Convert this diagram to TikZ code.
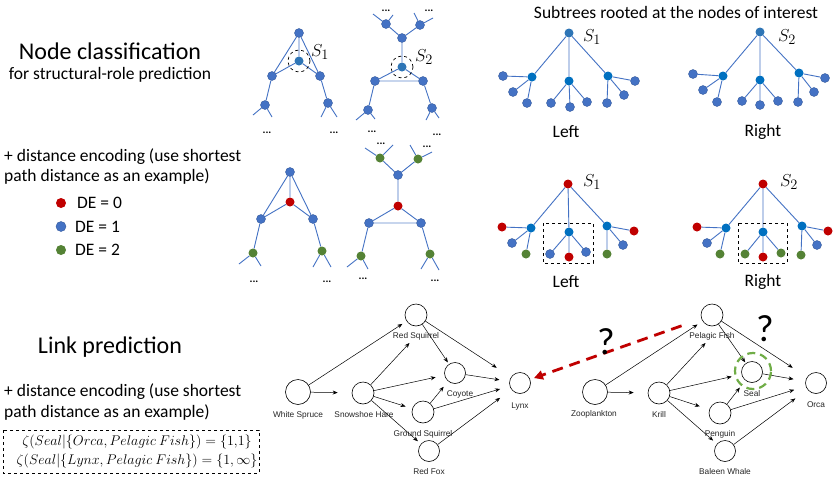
\documentclass[tikz,border=0pt]{standalone}
\usepackage{fontspec}
\setmainfont{Carlito}
\newfontfamily\arialf{Liberation Sans}
\usetikzlibrary{arrows.meta}
\definecolor{nblue}{HTML}{4472C4}
\definecolor{cblue}{HTML}{0070C0}
\definecolor{rblue}{HTML}{2E75B6}
\definecolor{nred}{HTML}{C00000}
\definecolor{ngreen}{HTML}{548235}
\definecolor{dgreen}{HTML}{70AD47}
\tikzset{
 dot/.style={circle, inner sep=0pt, minimum size=9pt},
 bn/.style={dot, fill=nblue, draw=nblue!80!black, line width=0.4pt},
 cn/.style={dot, fill=cblue},
 rtn/.style={dot, fill=rblue},
 rn/.style={dot, fill=nred},
 gn/.style={dot, fill=ngreen},
 ed/.style={draw=nblue, line width=0.9pt},
 dots/.style={font=\fontsize{11}{11}\selectfont\bfseries, inner sep=0pt},
 txt/.style={font=\fontsize{17.5}{21}\selectfont, inner sep=0pt},
 big/.style={font=\fontsize{24}{28}\selectfont, inner sep=0pt},
 slab/.style={font=\fontsize{19}{19}\selectfont, inner sep=0pt},
 dcirc/.style={circle, draw=black, dashed, line width=0.7pt, minimum size=22pt, inner sep=0pt},
 dbox/.style={draw=black, dashed, line width=0.8pt},
 fw/.style={circle, draw=black, line width=0.6pt, minimum size=22pt, inner sep=0pt, fill=white},
 fwl/.style={font=\arialf\fontsize{8.3}{9}\selectfont, inner sep=0pt, text=black!85},
 fa/.style={-{Stealth[length=5pt,width=4pt]}, line width=0.5pt},
 qm/.style={font=\fontsize{38}{38}\selectfont, inner sep=0pt},
 frm/.style={font=\fontsize{12}{14}\selectfont, inner sep=0pt},
}
\begin{document}
\begin{tikzpicture}[x=1pt,y=-1pt]
\fill[white] (0,0) rectangle (833,477);
\useasboundingbox (0,0) rectangle (833,477);

% ---------- left texts ----------
\node[big] (t1) at (110,51) {Node classification};
\node[txt] (t2) at (110,75) {for structural-role prediction};
\node[txt,anchor=west] (t3) at (4,157) {+ distance encoding (use shortest};
\node[txt,anchor=west] (t4) at (4,177) {path distance as an example)};
\node[rn,minimum size=10pt] (l0) at (61,203) {};
\node[bn,minimum size=10pt] (l1) at (61,226.5) {};
\node[gn,minimum size=10pt] (l2) at (61,250) {};
\node[txt,anchor=west] (l0t) at (77,203) {DE = 0};
\node[txt,anchor=west] (l1t) at (75,226.5) {DE = 1};
\node[txt,anchor=west] (l2t) at (75,250) {DE = 2};

\node[big] (t5) at (110,347) {Link prediction};
\node[txt,anchor=west] (t6) at (4,392) {+ distance encoding (use shortest};
\node[txt,anchor=west] (t7) at (4,413) {path distance as an example)};
\draw[dbox] (3,430) rectangle (259,473);
\node[frm] (f1) at (137,442) {\scalebox{1.17}{$\zeta(Seal|\{Orca, Pelagic\ Fish\}) = \{1{,}1\}$}};
\node[frm] (f2) at (137,461) {\scalebox{1.17}{$\zeta(Seal|\{Lynx, Pelagic\ Fish\}) = \{1, \infty\}$}};

% ---------- graph A (row 1) ----------
\node[bn] (a0) at (299,33) {};
\node[rtn] (a1) at (299,61) {};
\node[bn] (a2) at (272,76) {};
\node[bn] (a3) at (320,76) {};
\node[bn] (a4) at (265,105) {};
\node[bn] (a5) at (328,103) {};
\coordinate (a4s1) at (253,115); \coordinate (a4s2) at (272,117);
\coordinate (a5s1) at (321,117); \coordinate (a5s2) at (337,117);
\draw[ed] (a0)--(a1) (a0)--(a2) (a0)--(a3) (a1)--(a2) (a1)--(a3) (a2)--(a4) (a3)--(a5)
  (a4)--(a4s1) (a4)--(a4s2) (a5)--(a5s1) (a5)--(a5s2);
\node[dcirc] (a1c) at (299,61) {};
\node[slab] (sa) at (320,52) {$S_1$};
\node[dots] (ad1) at (267,133) {...};
\node[dots] (ad2) at (334,133) {...};

% ---------- graph B (row 1) ----------
\node[bn] (b0) at (386,24) {};
\node[bn] (b1) at (420,25) {};
\node[bn] (b2) at (402,38) {};
\node[rtn] (b3) at (402,67) {};
\node[bn] (b4) at (375,81) {};
\node[bn] (b5) at (423,81) {};
\node[bn] (b6) at (368,110) {};
\node[bn] (b7) at (432,108) {};
\coordinate (b0s1) at (373,14); \coordinate (b0s2) at (393,15);
\coordinate (b1s1) at (414,13); \coordinate (b1s2) at (433,18);
\coordinate (b6s1) at (356,120); \coordinate (b6s2) at (375,119);
\coordinate (b7s1) at (426,120); \coordinate (b7s2) at (439,118);
\draw[ed] (b0)--(b2) (b1)--(b2) (b2)--(b3) (b3)--(b4) (b3)--(b5) (b4)--(b6) (b5)--(b7)
  (b0)--(b0s1) (b0)--(b0s2) (b1)--(b1s1) (b1)--(b1s2)
  (b6)--(b6s1) (b6)--(b6s2) (b7)--(b7s1) (b7)--(b7s2);
\draw[draw=nblue!75, double=nblue!30, double distance=1.2pt, line width=0.6pt] (b4)--(b5);
\node[dcirc] (b3c) at (402,67) {};
\node[slab] (sb) at (424,57) {$S_2$};
\node[dots] (bd1) at (386,11) {...};
\node[dots] (bd2) at (429,11) {...};
\node[dots] (bd3) at (372,132) {...};
\node[dots] (bd4) at (437,135) {...};

% ---------- graph A' (row 2) ----------
\node[bn] (c0) at (290,172) {};
\node[rn] (c1) at (290,202) {};
\node[bn] (c2) at (261,219) {};
\node[bn] (c3) at (313,219) {};
\node[gn] (c4) at (253,253) {};
\node[gn] (c5) at (322,251) {};
\coordinate (c4s1) at (239,264); \coordinate (c4s2) at (261,266);
\coordinate (c5s1) at (313,267); \coordinate (c5s2) at (331,267);
\draw[ed] (c0)--(c1) (c0)--(c2) (c0)--(c3) (c1)--(c2) (c1)--(c3) (c2)--(c4) (c3)--(c5)
  (c4)--(c4s1) (c4)--(c4s2) (c5)--(c5s1) (c5)--(c5s2);
\node[dots] (cd1) at (254,282) {...};
\node[dots] (cd2) at (327,282) {...};

% ---------- graph B' (row 2) ----------
\node[gn] (d0) at (380,158) {};
\node[gn] (d1) at (418,159) {};
\node[bn] (d2) at (398,175) {};
\node[rn] (d3) at (398,206) {};
\node[bn] (d4) at (369,223) {};
\node[bn] (d5) at (421,223) {};
\node[gn] (d6) at (361,256) {};
\node[gn] (d7) at (430,254) {};
\coordinate (d0s1) at (365,148); \coordinate (d0s2) at (393,145);
\coordinate (d1s1) at (410,145); \coordinate (d1s2) at (432,152);
\coordinate (d6s1) at (347,267); \coordinate (d6s2) at (368,269);
\coordinate (d7s1) at (421,269); \coordinate (d7s2) at (439,270);
\draw[ed] (d0)--(d2) (d1)--(d2) (d2)--(d3) (d3)--(d4) (d3)--(d5) (d4)--(d6) (d5)--(d7)
  (d0)--(d0s1) (d0)--(d0s2) (d1)--(d1s1) (d1)--(d1s2)
  (d6)--(d6s1) (d6)--(d6s2) (d7)--(d7s1) (d7)--(d7s2);
\draw[draw=nblue!75, double=nblue!30, double distance=1.2pt, line width=0.6pt] (d4)--(d5);
\node[dots] (dd1) at (381,144) {...};
\node[dots] (dd2) at (427,147) {...};
\node[dots] (dd3) at (363,279) {...};
\node[dots] (dd4) at (435,281) {...};

% ---------- subtrees row 1 ----------
\node[txt] (st) at (676,12) {Subtrees rooted at the nodes of interest};
% left
\node[rtn] (p0) at (569,33) {};
\node[cn] (p1) at (532,77) {};
\node[cn] (p2) at (569,81) {};
\node[cn] (p3) at (608,76) {};
\node[bn] (p11) at (503,76) {}; \node[bn] (p12) at (513,92) {}; \node[bn] (p13) at (527,103) {};
\node[bn] (p21) at (551,103) {}; \node[bn] (p22) at (570,107) {}; \node[bn] (p23) at (587,102) {};
\node[bn] (p31) at (607,103) {}; \node[bn] (p32) at (624,95) {}; \node[bn] (p33) at (635,81) {};
\draw[ed] (p0)--(p1) (p0)--(p2) (p0)--(p3)
  (p1)--(p11) (p1)--(p12) (p1)--(p13) (p2)--(p21) (p2)--(p22) (p2)--(p23)
  (p3)--(p31) (p3)--(p32) (p3)--(p33);
\node[slab] (sp) at (592,37) {$S_1$};
\node[txt] (pl) at (566,132) {Left};
% right
\node[rtn] (q0) at (760,32) {};
\node[cn] (q1) at (723,76) {};
\node[cn] (q2) at (760,80) {};
\node[cn] (q3) at (799,73) {};
\node[bn] (q11) at (693,74) {}; \node[bn] (q12) at (703,90) {}; \node[bn] (q13) at (717,102) {};
\node[bn] (q21) at (742,101) {}; \node[bn] (q22) at (760,105) {}; \node[bn] (q23) at (778,101) {};
\node[bn] (q31) at (798,102) {}; \node[bn] (q32) at (814,92) {}; \node[bn] (q33) at (825,78) {};
\draw[ed] (q0)--(q1) (q0)--(q2) (q0)--(q3)
  (q1)--(q11) (q1)--(q12) (q1)--(q13) (q2)--(q21) (q2)--(q22) (q2)--(q23)
  (q3)--(q31) (q3)--(q32) (q3)--(q33);
\node[slab] (sq) at (787,37) {$S_2$};
\node[txt] (ql) at (763,132) {Right};

% ---------- subtrees row 2 ----------
\node[rn] (u0) at (568,184) {};
\node[cn] (u1) at (531,228) {};
\node[cn] (u2) at (569,232) {};
\node[cn] (u3) at (607,226) {};
\node[rn] (u11) at (502,227) {}; \node[bn] (u12) at (512,243) {}; \node[gn] (u13) at (526,254) {};
\node[bn] (u21) at (550,254) {}; \node[rn] (u22) at (569,257) {}; \node[bn] (u23) at (586,252) {};
\node[gn] (u31) at (607,254) {}; \node[bn] (u32) at (623,245) {}; \node[rn] (u33) at (634,231) {};
\draw[ed] (u0)--(u1) (u0)--(u2) (u0)--(u3)
  (u1)--(u11) (u1)--(u12) (u1)--(u13) (u2)--(u21) (u2)--(u22) (u2)--(u23)
  (u3)--(u31) (u3)--(u32) (u3)--(u33);
\draw[dbox] (543,223) rectangle (593,263);
\node[slab] (su) at (592,182) {$S_1$};
\node[txt] (ul) at (566,282) {Left};
% right
\node[rn] (v0) at (763,184) {};
\node[cn] (v1) at (726,228) {};
\node[cn] (v2) at (763,232) {};
\node[cn] (v3) at (802,226) {};
\node[rn] (v11) at (697,227) {}; \node[bn] (v12) at (707,243) {}; \node[gn] (v13) at (720,254) {};
\node[gn] (v21) at (745,254) {}; \node[rn] (v22) at (763,257) {}; \node[gn] (v23) at (781,253) {};
\node[gn] (v31) at (801,255) {}; \node[bn] (v32) at (817,245) {}; \node[rn] (v33) at (828,231) {};
\draw[ed] (v0)--(v1) (v0)--(v2) (v0)--(v3)
  (v1)--(v11) (v1)--(v12) (v1)--(v13) (v2)--(v21) (v2)--(v22) (v2)--(v23)
  (v3)--(v31) (v3)--(v32) (v3)--(v33);
\draw[dbox] (738,223) rectangle (787,263);
\node[slab] (sv) at (789,182) {$S_2$};
\node[txt] (vl) at (763,282) {Right};

% ---------- food web left ----------
\node[fw] (rs) at (416,315) {};
\node[fw,minimum size=25pt] (ws) at (298,392) {};
\node[fw] (sh) at (363,393) {};
\node[fw,minimum size=21pt] (co) at (455,373) {};
\node[fw] (gs) at (423,412) {};
\node[fw,minimum size=21pt] (rf) at (429,451) {};
\node[fw,minimum size=21pt] (ly) at (520,383) {};
\node[fwl] (rsl) at (416,336) {Red Squirrel};
\node[fwl] (wsl) at (298,415) {White Spruce};
\node[fwl] (shl) at (364,415) {Snowshoe Hare};
\node[fwl] (col) at (460,394) {Coyote};
\node[fwl] (gsl) at (423,434) {Ground Squirrel};
\node[fwl] (rfl) at (429,472) {Red Fox};
\node[fwl] (lyl) at (520,406) {Lynx};
\draw[fa,shorten >=5pt] (ws)--(rs);
\draw[fa,shorten >=14pt] (ws)--(sh);
\draw[fa,shorten >=4pt] (sh)--(rsl);
\draw[fa,shorten >=9pt] (sh)--(co);
\draw[fa,shorten >=7pt] (sh)--(gs);
\draw[fa,shorten >=4pt] (sh)--(rf);
\draw[fa,shorten >=2pt] (rs)--(co);
\draw[fa,shorten >=17pt] (rs)--(ly);
\draw[fa,shorten >=10pt] (co)--(ly);
\draw[fa,shorten >=7pt] (gs)--(co);
\draw[fa,shorten >=10pt] (gs)--(ly);
\draw[fa,shorten >=14pt] (rf)--(ly);

% ---------- food web right ----------
\node[fw] (pf) at (712,315) {};
\node[fw,minimum size=25pt] (zp) at (595,392) {};
\node[fw] (kr) at (659,393) {};
\node[fw,minimum size=21pt] (se) at (752,372) {};
\node[fw] (pe) at (720,413) {};
\node[fw,minimum size=21pt] (bw) at (725,451) {};
\node[fw,minimum size=21pt] (orc) at (816,383) {};
\node[fwl] (pfl) at (712,336) {Pelagic Fish};
\node[fwl] (zpl) at (594,414) {Zooplankton};
\node[fwl] (krl) at (659,414) {Krill};
\node[fwl] (sel) at (752,394) {Seal};
\node[fwl] (pel) at (720,434) {Penguin};
\node[fwl] (bwl) at (725,472) {Baleen Whale};
\node[fwl] (orl) at (816,405) {Orca};
\draw[fa,shorten >=6pt] (zp)--(pf);
\draw[fa,shorten >=14pt] (zp)--(kr);
\draw[fa,shorten >=4pt] (kr)--(pfl);
\draw[fa,shorten >=10pt] (kr)--(se);
\draw[fa,shorten >=10pt] (kr)--(pe);
\draw[fa,shorten >=5pt] (kr)--(bw);
\draw[fa,shorten >=1pt] (pf)--(se);
\draw[fa,shorten >=17pt] (pf)--(orc);
\draw[fa,shorten >=12pt] (se)--(orc);
\draw[fa,shorten >=9pt] (pe)--(se);
\draw[fa,shorten >=12pt] (pe)--(orc);
\draw[fa,shorten >=15pt] (bw)--(orc);
\node[circle, draw=dgreen, dash pattern=on 8pt off 5pt, line width=2.2pt, minimum size=36pt, inner sep=0pt] (sec) at (753,371) {};

% ---------- red dashed link ----------
\draw[draw=nred, line width=2.8pt, dash pattern=on 11pt off 7pt, shorten <=21pt, shorten >=4pt,
  -{Triangle[length=9pt,width=9pt,fill=nred]}] (pf)--(ly);
\node[qm] (q1m) at (606,342) {?};
\node[qm] (q2m) at (765,329) {?};
\end{tikzpicture}
\end{document}
